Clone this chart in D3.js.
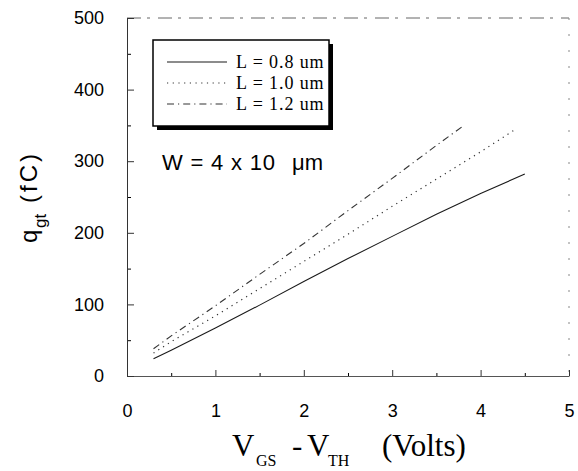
<!DOCTYPE html>
<html>
<head>
<meta charset="utf-8">
<script src="https://cdn.jsdelivr.net/npm/d3@7"></script>
<style>
  body { margin: 0; background: #fff; }
  svg { display: block; }
</style>
</head>
<body>
<div class="d3-graph"></div>
<script>
(function () {
    "use strict";

    // gate voltage overdrive (V) for each curve
    var vov08 = [0.3, 0.5, 1.0, 1.5, 2.0, 2.5, 3.0, 3.5, 4.0, 4.5];
    var vov10 = [0.3, 0.5, 1.0, 1.5, 2.0, 2.5, 3.0, 3.5, 4.0, 4.4];
    var vov12 = [0.3, 0.5, 1.0, 1.5, 2.0, 2.5, 3.0, 3.5, 3.8];
    // gate charge q_gt (fC)
    var qgt08 = [24, 36, 67, 99, 132, 164, 195, 226, 255, 282];
    var qgt10 = [32, 48, 84, 122, 160, 198, 237, 275, 313, 345];
    var qgt12 = [38, 56, 98, 142, 185, 231, 276, 322, 349];

    var legendLabels = ['L = 0.8 um', 'L = 1.0 um', 'L = 1.2 um'];
    var xTicks = [0, 1, 2, 3, 4, 5];
    var yTicks = [0, 100, 200, 300, 400, 500];

    var config = {
        width: 578,
        height: 471,
        margin: { top: 18, right: 9, bottom: 95, left: 127 }
    };

    var series = [
        { x: vov08, y: qgt08, dash: null, color: '#1a1a1a', width: 1.1 },
        { x: vov10, y: qgt10, dash: '1.2,4.5', color: '#333', width: 1.2 },
        { x: vov12, y: qgt12, dash: '7,4,1.2,4', color: '#333', width: 1.1 }
    ];

    function drawChart() {
        var m = config.margin;
        var w = config.width - m.left - m.right;
        var h = config.height - m.top - m.bottom;

        var svg = d3.select('.d3-graph').html('')
            .append('svg')
            .attr('width', config.width)
            .attr('height', config.height);

        var g = svg.append('g')
            .attr('transform', 'translate(' + m.left + ',' + m.top + ')');

        var x = d3.scaleLinear().domain([0, 5]).range([0, w]);
        var y = d3.scaleLinear().domain([0, 500]).range([h, 0]);

        // faded top / right frame
        g.append('line')
            .attr('x1', 0).attr('x2', w).attr('y1', 0).attr('y2', 0)
            .attr('stroke', '#666').attr('stroke-dasharray', '14,6,3,8');
        g.append('line')
            .attr('x1', w).attr('x2', w).attr('y1', 0).attr('y2', h)
            .attr('stroke', '#888').attr('stroke-dasharray', '2,14');

        // minor ticks
        g.append('g')
            .attr('transform', 'translate(0,' + h + ')')
            .call(d3.axisBottom(x).tickValues(d3.range(0.5, 5, 1)).tickSize(-3).tickFormat(''))
            .call(function (s) { s.select('.domain').remove(); });
        g.append('g')
            .call(d3.axisLeft(y).tickValues(d3.range(50, 500, 100)).tickSize(-4).tickFormat(''))
            .call(function (s) { s.select('.domain').remove(); });

        var xAxis = g.append('g')
            .attr('transform', 'translate(0,' + h + ')')
            .call(d3.axisBottom(x).tickValues(xTicks).tickFormat(d3.format('d'))
                .tickSize(-6).tickPadding(28).tickSizeOuter(0));
        var yAxis = g.append('g')
            .call(d3.axisLeft(y).tickValues(yTicks).tickFormat(d3.format('d'))
                .tickSize(-7).tickPadding(23).tickSizeOuter(0));

        [xAxis, yAxis].forEach(function (a) {
            a.selectAll('text')
                .attr('font-family', 'Liberation Sans, Arial, sans-serif')
                .attr('font-size', 18)
                .attr('fill', '#000');
            a.selectAll('line').attr('stroke', '#333');
        });
        xAxis.select('.domain').attr('stroke', '#555');
        yAxis.select('.domain').attr('stroke', '#333');

        var line = d3.line()
            .x(function (d) { return x(d[0]); })
            .y(function (d) { return y(d[1]); });

        series.forEach(function (s) {
            g.append('path')
                .datum(d3.zip(s.x, s.y))
                .attr('d', line)
                .attr('fill', 'none')
                .attr('stroke', s.color)
                .attr('stroke-width', s.width)
                .attr('stroke-dasharray', s.dash);
        });

        // legend box with drop shadow
        var lg = svg.append('g').attr('transform', 'translate(153,40)');
        lg.append('rect')
            .attr('x', 4).attr('y', 4).attr('width', 176).attr('height', 86)
            .attr('fill', '#000');
        lg.append('rect')
            .attr('width', 176).attr('height', 86)
            .attr('fill', '#fff').attr('stroke', '#000').attr('stroke-width', 1.5);

        legendLabels.forEach(function (lab, i) {
            var yy = 22 + i * 21;
            lg.append('line')
                .attr('x1', 14).attr('x2', 74).attr('y1', yy).attr('y2', yy)
                .attr('stroke', series[i].color)
                .attr('stroke-width', 1.1)
                .attr('stroke-dasharray', series[i].dash);
            lg.append('text')
                .attr('x', 83).attr('y', yy + 6)
                .attr('font-family', 'Liberation Serif, Times New Roman, serif')
                .attr('font-size', 18)
                .attr('letter-spacing', 0.9)
                .text(lab);
        });

        // annotation
        var ann = svg.append('text')
            .attr('y', 170)
            .attr('font-family', 'Liberation Sans, Arial, sans-serif')
            .attr('font-size', 22);
        ann.append('tspan').attr('x', 162).attr('letter-spacing', 0.8).text('W = 4 x 10');
        ann.append('tspan').attr('x', 292).text('\u03bcm');

        // x-axis title
        var xt = svg.append('text')
            .attr('font-family', 'Liberation Serif, Times New Roman, serif')
            .attr('font-size', 31);
        xt.append('tspan').attr('x', 232).attr('y', 456).text('V');
        xt.append('tspan').attr('x', 256).attr('y', 466).attr('font-size', 16).text('GS');
        xt.append('tspan').attr('x', 292).attr('y', 456).text('-');
        xt.append('tspan').attr('x', 307).attr('y', 456).text('V');
        xt.append('tspan').attr('x', 328).attr('y', 466).attr('font-size', 16).text('TH');
        xt.append('tspan').attr('x', 382).attr('y', 456).text('(Volts)');

        // y-axis title
        var yt = svg.append('text')
            .attr('transform', 'translate(37,243) rotate(-90)')
            .attr('font-family', 'Liberation Sans, Arial, sans-serif')
            .attr('font-size', 24);
        yt.append('tspan').attr('x', 0).attr('y', 0).text('q');
        yt.append('tspan').attr('x', 15).attr('y', 9).attr('font-size', 17).text('gt');
        yt.append('tspan').attr('x', 40).attr('y', 0).attr('letter-spacing', 3).text('(fC)');
    }

    drawChart();
})();
</script>
</body>
</html>
